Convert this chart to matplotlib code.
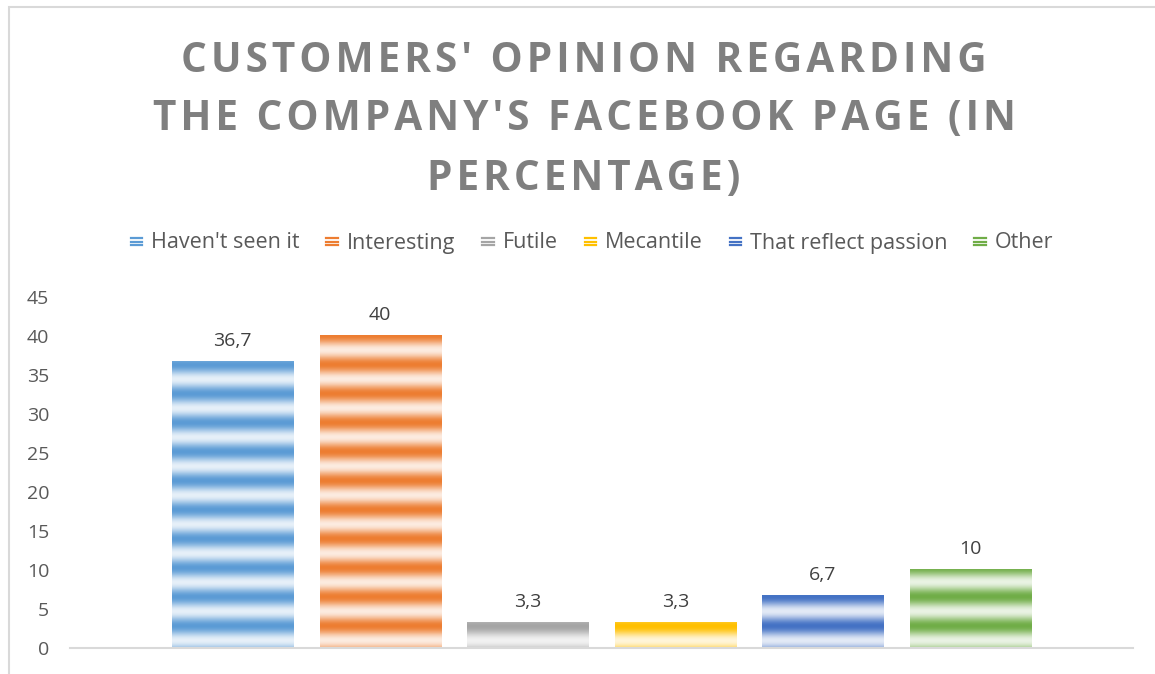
import numpy as np
import matplotlib
matplotlib.use("Agg")
from matplotlib import pyplot as plt
from matplotlib.patches import Rectangle
from matplotlib.lines import Line2D
from matplotlib.legend_handler import HandlerBase

# datos del grafico
categorias = ["Haven't seen it", "Interesting", "Futile", "Mecantile",
              "That reflect passion", "Other"]
valores = [36.7, 40, 3.3, 3.3, 6.7, 10]
etiquetas = ["36,7", "40", "3,3", "3,3", "6,7", "10"]
colores = ["#5B9BD5", "#ED7D31", "#A5A5A5", "#FFC000", "#4472C4", "#70AD47"]
yticks = [0, 5, 10, 15, 20, 25, 30, 35, 40, 45]

lineas_titulo = ["CUSTOMERS' OPINION REGARDING",
                 "THE COMPANY'S FACEBOOK PAGE (IN",
                 "PERCENTAGE)"]

plt.rcParams['font.family'] = ['Open Sans', 'DejaVu Sans']

W, H = 1155, 674
fig = plt.figure(figsize=(W / 100, H / 100), dpi=100)

# marco gris alrededor del grafico
fig.patches.append(Rectangle((9 / W, -0.05), 1.2, 1 - 7 / H + 0.05,
                             transform=fig.transFigure, fill=False,
                             edgecolor="#D9D9D9", lw=1.5))

ax = fig.add_axes([70 / W, 26 / H, (1133 - 70) / W, (648 - 297) / H])

ancho = 0.82
periodo = 3.72   # periodo de las rayas en unidades del eje
fase = 2.8


def rayas(color, alto):
    # textura de rayas horizontales con degradado
    ys = np.linspace(alto, 0, 400)
    t = 0.5 * (1 + np.cos(2 * np.pi * (ys - fase) / periodo))
    a = 0.15 + 0.85 * t
    c = np.array(matplotlib.colors.to_rgb(color))
    img = (1 - a)[:, None] * np.ones(3) + a[:, None] * c
    return img[:, None, :]


for i, (v, col, lab) in enumerate(zip(valores, colores, etiquetas)):
    ax.imshow(rayas(col, v), extent=[i - ancho / 2, i + ancho / 2, 0, v],
              aspect="auto", interpolation="bilinear", zorder=2)
    ax.text(i, v + 1.5, lab, ha="center", va="bottom", fontsize=14,
            color="#404040")

ax.set_xlim(-1.1, 6.1)
ax.set_ylim(0, 45)
ax.set_yticks(yticks)
ax.set_xticks([])
ax.tick_params(axis="y", length=0, labelsize=14, labelcolor="#595959", pad=15)
for s in ["top", "right", "left"]:
    ax.spines[s].set_visible(False)
ax.spines["bottom"].set_color("#D9D9D9")
ax.spines["bottom"].set_linewidth(1.5)

# titulo con espaciado entre letras (hair space)
for k, linea in enumerate(lineas_titulo):
    fig.text(584 / W, 1 - (61 + 59 * k) / H, "\u200a".join(linea),
             ha="center", va="center", fontsize=29.2, fontweight="bold",
             color="#7F7F7F")


class Rayitas(HandlerBase):
    def create_artists(self, legend, orig_handle, xdescent, ydescent,
                       width, height, fontsize, trans):
        col = orig_handle.get_color()
        out = []
        for k in range(3):
            y = -ydescent + height * (0.15 + 0.3 * k)
            out.append(Line2D([-xdescent, -xdescent + width], [y, y],
                              color=col, lw=1.6, transform=trans))
        return out


handles = [Line2D([], [], color=c) for c in colores]
fig.legend(handles, categorias, handler_map={Line2D: Rayitas()},
           loc="center", bbox_to_anchor=(592 / W, 1 - 243 / H), ncol=6,
           frameon=False, fontsize=15.5, labelcolor="#595959",
           handlelength=0.55, handleheight=0.55, handletextpad=0.4,
           columnspacing=1.25)

fig.savefig("out.png", dpi=100)
